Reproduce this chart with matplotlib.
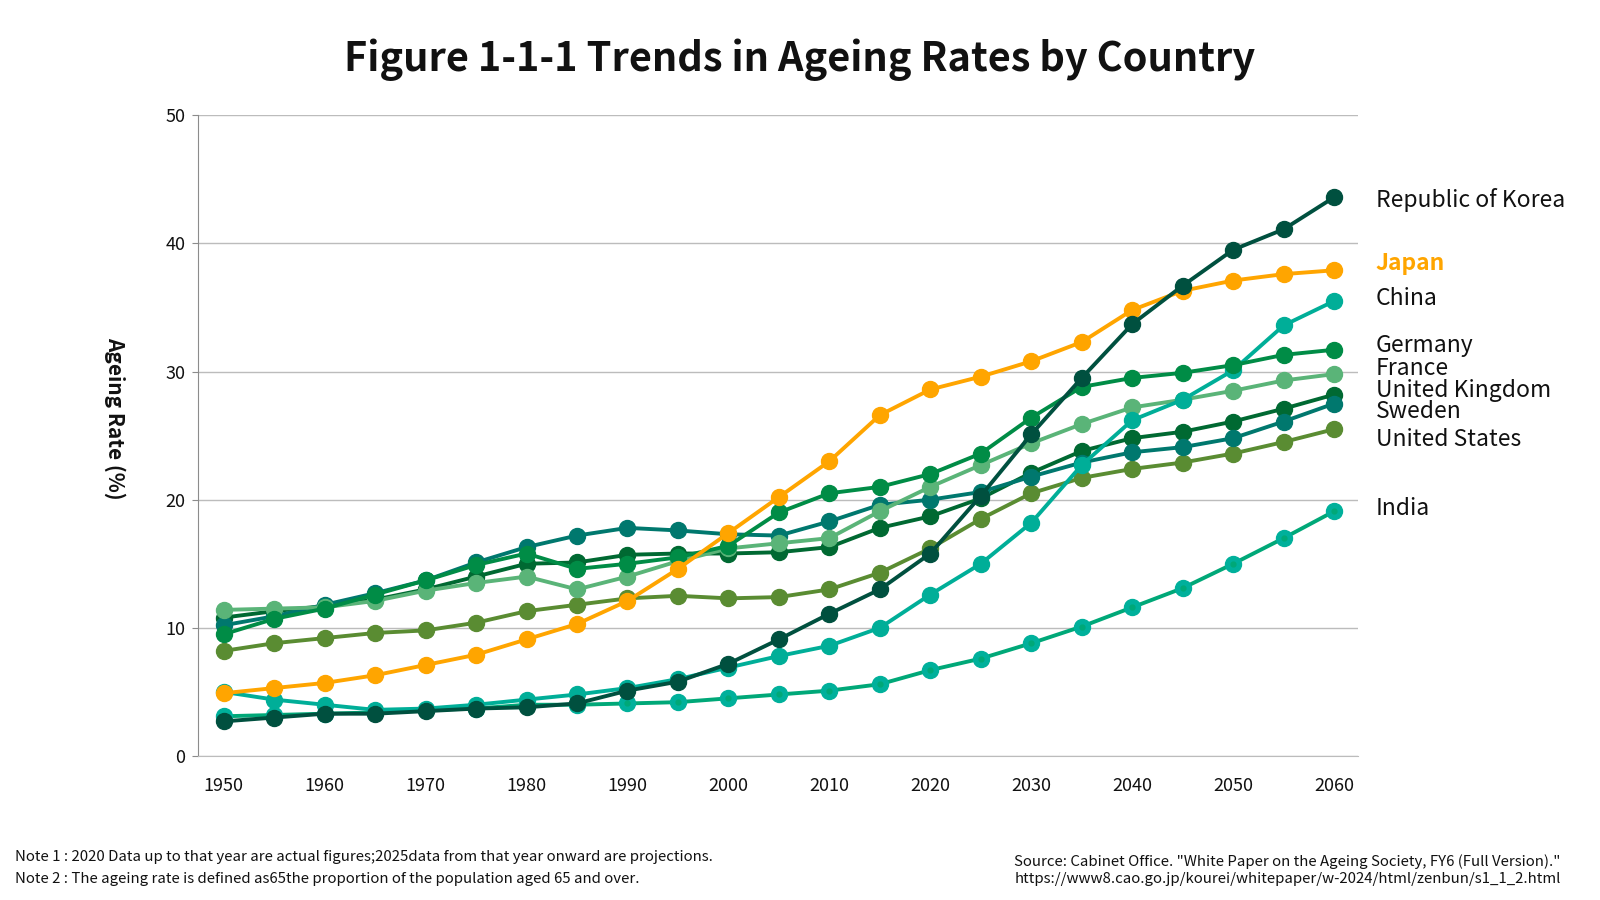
import matplotlib
matplotlib.use("Agg")
import matplotlib.pyplot as plt
import numpy as np

plt.rcParams['font.family'] = ['Noto Sans CJK JP', 'DejaVu Sans']

years = list(range(1950, 2061, 5))

korea   = [2.7, 3.0, 3.3, 3.3, 3.5, 3.7, 3.8, 4.1, 5.1, 5.8, 7.2, 9.1, 11.1, 13.0, 15.8, 20.3, 25.1, 29.5, 33.7, 36.7, 39.5, 41.1, 43.6]
japan   = [4.9, 5.3, 5.7, 6.3, 7.1, 7.9, 9.1, 10.3, 12.1, 14.6, 17.4, 20.2, 23.0, 26.6, 28.6, 29.6, 30.8, 32.3, 34.8, 36.3, 37.1, 37.6, 37.9]
china   = [5.0, 4.4, 4.0, 3.6, 3.7, 4.0, 4.4, 4.8, 5.3, 6.0, 6.9, 7.8, 8.6, 10.0, 12.6, 15.0, 18.2, 22.7, 26.2, 27.8, 30.1, 33.6, 35.5]
germany = [9.5, 10.7, 11.5, 12.6, 13.7, 14.9, 15.8, 14.6, 15.0, 15.5, 16.4, 19.0, 20.5, 21.0, 22.0, 23.6, 26.4, 28.8, 29.5, 29.9, 30.5, 31.3, 31.7]
france  = [11.4, 11.5, 11.6, 12.1, 12.9, 13.5, 14.0, 13.0, 14.0, 15.2, 16.2, 16.6, 17.0, 19.1, 21.0, 22.7, 24.4, 25.9, 27.2, 27.8, 28.5, 29.3, 29.8]
uk      = [10.8, 11.3, 11.7, 12.2, 13.0, 14.0, 15.0, 15.1, 15.7, 15.8, 15.8, 15.9, 16.3, 17.8, 18.7, 20.1, 22.1, 23.8, 24.8, 25.3, 26.1, 27.1, 28.2]
sweden  = [10.2, 10.9, 11.8, 12.7, 13.7, 15.1, 16.3, 17.2, 17.8, 17.6, 17.3, 17.2, 18.3, 19.6, 20.0, 20.6, 21.8, 22.9, 23.7, 24.1, 24.8, 26.1, 27.5]
usa     = [8.2, 8.8, 9.2, 9.6, 9.8, 10.4, 11.3, 11.8, 12.3, 12.5, 12.3, 12.4, 13.0, 14.3, 16.2, 18.5, 20.5, 21.7, 22.4, 22.9, 23.6, 24.5, 25.5]
india   = [3.1, 3.2, 3.3, 3.4, 3.6, 3.7, 4.0, 4.0, 4.1, 4.2, 4.5, 4.8, 5.1, 5.6, 6.7, 7.6, 8.8, 10.1, 11.6, 13.1, 15.0, 17.0, 19.1]

names = ["Republic of Korea", "Japan", "China", "Germany", "France",
         "United Kingdom", "Sweden", "United States", "India"]
series = [korea, japan, china, germany, france, uk, sweden, usa, india]
colors = ["#00503f", "#ffa500", "#00ae98", "#008c46", "#5ab478",
          "#006932", "#00786e", "#5a8c32", "#00a878"]
marker_faces = ["#00503f", "#ffa500", "#00ae98", "#008c46", "#5ab478",
                "#006932", "#00786e", "#5a8c32", "#00b09b"]
# label vertical nudge from the final value (layout only)
label_nudge = [-0.2, 0.5, 0.2, 0.3, 0.4, 0.3, -0.6, -0.8, 0.2]
zorders = [9, 8, 6, 7, 5, 4, 5, 3, 2]

fig = plt.figure(figsize=(16, 9), dpi=100)
ax = fig.add_axes([0.124, 0.16, 0.725, 0.712])

draw_order = [8, 7, 6, 5, 4, 3, 2, 1, 0]
for i in draw_order:
    ax.plot(years, series[i], color=colors[i], lw=2.8, marker='o', ms=11.5,
            mfc=marker_faces[i], mec=marker_faces[i], zorder=zorders[i])
    if names[i] == "India":
        ax.plot(years, series[i], ls='none', marker='o', ms=3.5,
                mfc=colors[i], mec=colors[i], zorder=zorders[i] + 0.1)

for i, n in enumerate(names):
    is_japan = n == "Japan"
    ax.annotate(n, xy=(years[-1], series[i][-1] + label_nudge[i]),
                xytext=(30, 0), textcoords='offset points',
                va='center', ha='left', fontsize=16.5,
                color="#ffa500" if is_japan else "#111111",
                fontweight='bold' if is_japan else 'normal',
                annotation_clip=False)

ax.set_xlim(1947.5, 2062.4)
ax.set_ylim(0, 50)
ax.set_yticks([0, 10, 20, 30, 40, 50])
ax.set_xticks(list(range(1950, 2061, 10)))
ax.yaxis.grid(True, color="#bcbcbc", lw=1.0)
ax.set_axisbelow(True)
for s in ['top', 'right']:
    ax.spines[s].set_visible(False)
ax.spines['left'].set_color("#8c8c8c")
ax.spines['bottom'].set_color("#bcbcbc")
ax.tick_params(axis='y', length=4.5, color="#8c8c8c", labelsize=13, pad=5, labelcolor="#111111")
ax.tick_params(axis='x', length=0, labelsize=13, pad=15, labelcolor="#111111")

fig.text(0.5, 0.934, "Figure 1-1-1 Trends in Ageing Rates by Country",
         ha='center', va='center', fontsize=28.6, fontweight='bold', color="#111111")
fig.text(0.072, 0.535, "Ageing Rate (%)", rotation=270, ha='center', va='center',
         fontsize=15, fontweight='bold', color="#111111")

fig.text(0.0095, 1 - 857 / 900,
         "Note 1 : 2020 Data up to that year are actual figures;2025data from that year onward are projections.",
         ha='left', va='center', fontsize=10.8, color="#111111")
fig.text(0.0095, 1 - 879 / 900,
         "Note 2 : The ageing rate is defined as65the proportion of the population aged 65 and over.",
         ha='left', va='center', fontsize=10.8, color="#111111")
fig.text(0.9755, 1 - 862 / 900,
         "Source: Cabinet Office. \"White Paper on the Ageing Society, FY6 (Full Version).\"",
         ha='right', va='center', fontsize=10.8, color="#111111")
fig.text(0.9755, 1 - 879 / 900,
         "https://www8.cao.go.jp/kourei/whitepaper/w-2024/html/zenbun/s1_1_2.html",
         ha='right', va='center', fontsize=10.8, color="#111111")

fig.savefig("out.png", dpi=100, facecolor="white")
